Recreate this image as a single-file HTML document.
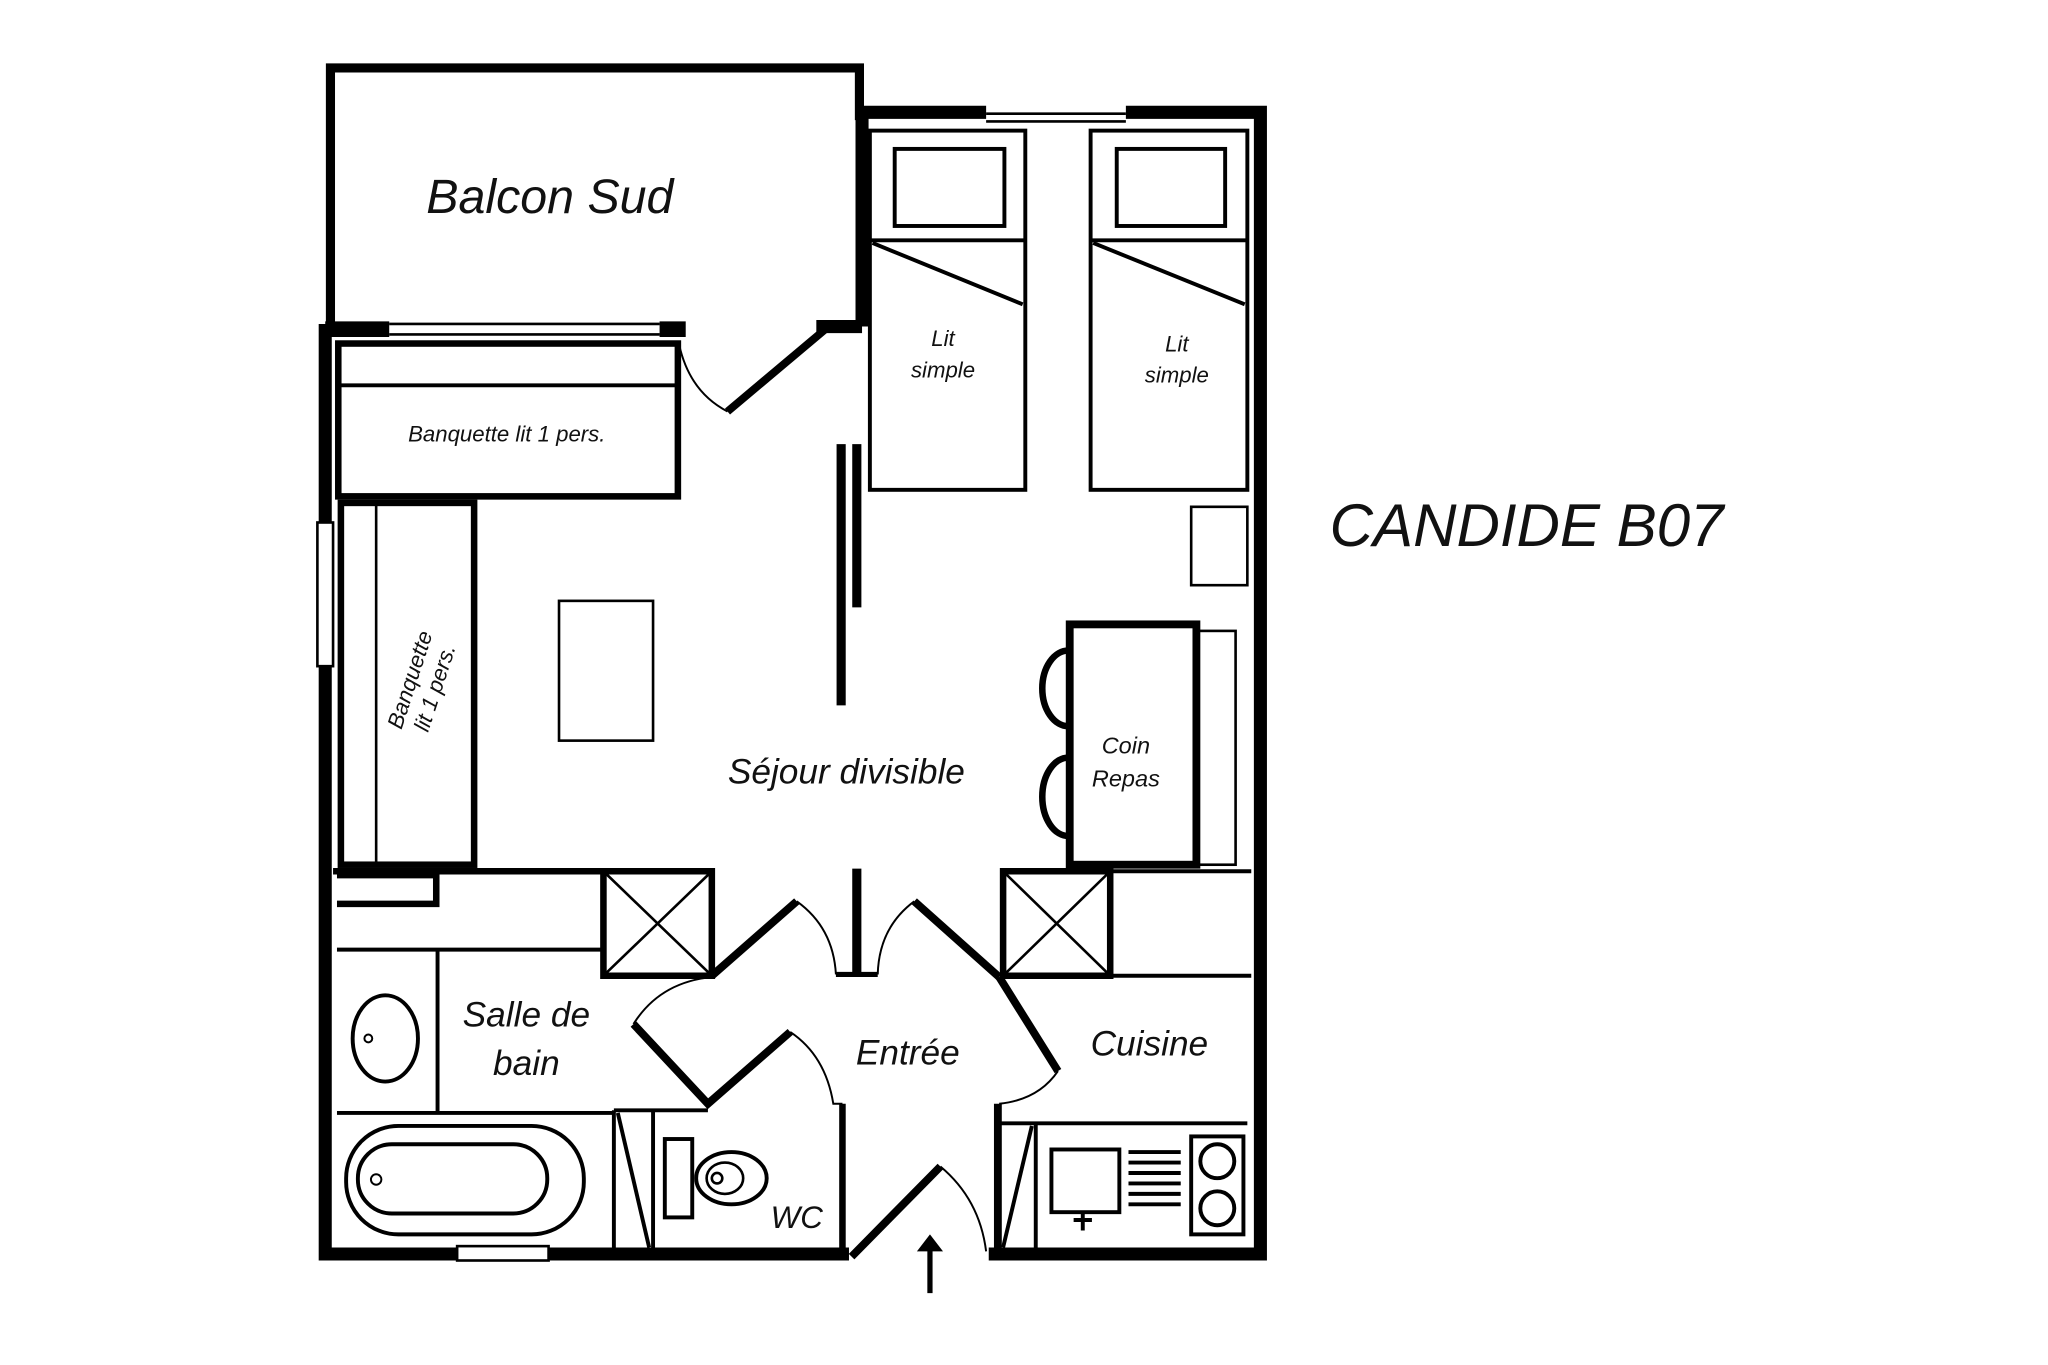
<!DOCTYPE html>
<html><head><meta charset="utf-8"><style>
html,body{margin:0;padding:0;background:#fff;}
svg{display:block;}
text{font-family:"Liberation Sans",sans-serif;font-style:italic;fill:#111;}
</style></head><body>
<svg width="2048" height="1365" viewBox="0 0 1568 1045" preserveAspectRatio="none" xmlns="http://www.w3.org/2000/svg">
<rect width="1568" height="1045" fill="#fff"/>
<g fill="none" stroke="#000">
<path d="M253 247 V52 H658 V92" stroke-width="7"/>
<path d="M249 248 V960 H650" stroke-width="10"/>
<path d="M757 960 H965 V86 H862" stroke-width="10"/>
<path d="M755 86 H660 V250" stroke-width="10"/>
<path d="M755 87 H862 M755 93 H862" stroke-width="2"/>
<path d="M249 252 H298 M505 252 H525" stroke-width="12"/>
<path d="M298 248 H505 M298 256 H505" stroke-width="2"/>
<path d="M625 250 H660" stroke-width="10"/>
<rect x="243" y="400" width="12" height="110" fill="#fff" stroke-width="2"/>
<rect x="350" y="954" width="70" height="11" fill="#fff" stroke-width="2"/>
<path d="M632 252 L557 315" stroke-width="6"/>
<path d="M520 264 Q528 300 557 315" stroke-width="1.5"/>
<path d="M644 340 V540" stroke-width="7"/>
<path d="M656 340 V465" stroke-width="7"/>
<g stroke-width="3">
<rect x="666" y="100" width="119" height="275"/>
<rect x="685" y="114" width="84" height="59"/>
<path d="M666 184 H785"/>
<rect x="835" y="100" width="120" height="275"/>
<rect x="855" y="114" width="83" height="59"/>
<path d="M835 184 H955"/>
</g>
<path d="M668 186 L783 233 M837 186 L953 233" stroke-width="3"/>
<rect x="912" y="388" width="43" height="60" stroke-width="2"/>
<rect x="259" y="263" width="260" height="117" stroke-width="5"/>
<path d="M259 295 H519" stroke-width="3"/>
<rect x="261" y="385" width="102" height="277" stroke-width="5"/>
<path d="M288 385 V662" stroke-width="2"/>
<rect x="428" y="460" width="72" height="107" stroke-width="2"/>
<rect x="819" y="478" width="97" height="184" stroke-width="6"/>
<rect x="916" y="483" width="30" height="179" stroke-width="2"/>
<path d="M818 498 A20 29 0 0 0 818 556 M818 580 A20 30 0 0 0 818 640" stroke-width="5"/>
<path d="M255 667 H545 V747 H462 V667" stroke-width="5"/>
<path d="M462 667 L545 747 M545 667 L462 747" stroke-width="2"/>
<path d="M258 670 H334 V692 H258" stroke-width="5"/>
<path d="M258 727 H462" stroke-width="3"/>
<path d="M768 667 H850 V747 H768 Z" stroke-width="5"/>
<path d="M768 667 L850 747 M850 667 L768 747" stroke-width="2"/>
<path d="M850 667 H958 M850 747 H958" stroke-width="3"/>
<path d="M656 665 V746" stroke-width="7"/>
<path d="M640 746 H672" stroke-width="4"/>
<path d="M545 747 L610 690" stroke-width="6"/>
<path d="M610 690 Q638 710 640 746" stroke-width="1.5"/>
<path d="M700 690 L765 748" stroke-width="6"/>
<path d="M700 690 Q673 710 672 746" stroke-width="1.5"/>
<path d="M335 727 V852 M258 852 H470" stroke-width="3"/>
<ellipse cx="295" cy="795" rx="25" ry="33" stroke-width="3"/>
<circle cx="282" cy="795" r="3" stroke-width="1.5"/>
<rect x="265" y="862" width="182" height="83" rx="40" stroke-width="3"/>
<rect x="274" y="876" width="145" height="53" rx="26" stroke-width="3"/>
<circle cx="288" cy="903" r="4" stroke-width="1.5"/>
<path d="M485 784 L542 845 L605 790" stroke-width="6"/>
<path d="M485 784 Q505 752 545 748" stroke-width="1.5"/>
<path d="M470 850 V958 M500 850 V958 M470 850 H542" stroke-width="3"/>
<path d="M473 852 L497 955" stroke-width="3"/>
<path d="M645 845 V958" stroke-width="5"/>
<path d="M605 790 Q632 808 638 845 H645" stroke-width="1.5"/>
<rect x="509" y="872" width="21" height="60" stroke-width="3"/>
<ellipse cx="560" cy="902" rx="27" ry="20" stroke-width="3"/>
<ellipse cx="555" cy="902" rx="14" ry="12" stroke-width="2"/>
<circle cx="549" cy="902" r="4" stroke-width="2"/>
<path d="M765 748 L810 820" stroke-width="6"/>
<path d="M810 820 Q795 842 765 845" stroke-width="1.5"/>
<path d="M764 845 V958" stroke-width="6"/>
<path d="M764 860 H955" stroke-width="3"/>
<path d="M793 860 V958" stroke-width="3"/>
<path d="M790 862 L768 955" stroke-width="3"/>
<rect x="805" y="880" width="52" height="48" stroke-width="3"/>
<path d="M829 928 V942 M822 934 H836" stroke-width="3"/>
<path d="M864 882 H904 M864 890 H904 M864 898 H904 M864 906 H904 M864 914 H904 M864 922 H904" stroke-width="3"/>
<rect x="912" y="870" width="40" height="75" stroke-width="3"/>
<circle cx="932" cy="889" r="13" stroke-width="3"/>
<circle cx="932" cy="925" r="13" stroke-width="3"/>
<path d="M652 962 L720 893" stroke-width="6"/>
<path d="M720 893 Q750 918 755 958" stroke-width="1.5"/>
<path d="M712 990 V955" stroke-width="4"/>
</g>
<path d="M702 958 L712 945 L722 958 Z" fill="#000"/>
<text x="421" y="163" font-size="37" text-anchor="middle">Balcon Sud</text>
<text x="388" y="338" font-size="17" text-anchor="middle">Banquette lit 1 pers.</text>
<text x="722" y="265" font-size="17" text-anchor="middle">Lit</text>
<text x="722" y="289" font-size="17" text-anchor="middle">simple</text>
<text x="901" y="269" font-size="17" text-anchor="middle">Lit</text>
<text x="901" y="293" font-size="17" text-anchor="middle">simple</text>
<g transform="translate(325,524) rotate(-72)">
<text x="0" y="-6" font-size="17" text-anchor="middle">Banquette</text>
<text x="0" y="14" font-size="17" text-anchor="middle">lit 1 pers.</text>
</g>
<text x="648" y="600" font-size="27" text-anchor="middle">Séjour divisible</text>
<text x="862" y="577" font-size="18" text-anchor="middle">Coin</text>
<text x="862" y="602" font-size="18" text-anchor="middle">Repas</text>
<text x="403" y="786" font-size="27" text-anchor="middle">Salle de</text>
<text x="403" y="823" font-size="27" text-anchor="middle">bain</text>
<text x="695" y="815" font-size="27" text-anchor="middle">Entrée</text>
<text x="880" y="808" font-size="27" text-anchor="middle">Cuisine</text>
<text x="610" y="940" font-size="24" text-anchor="middle">WC</text>
<text x="1018" y="418" font-size="46">CANDIDE B07</text>
</svg>
</body></html>
